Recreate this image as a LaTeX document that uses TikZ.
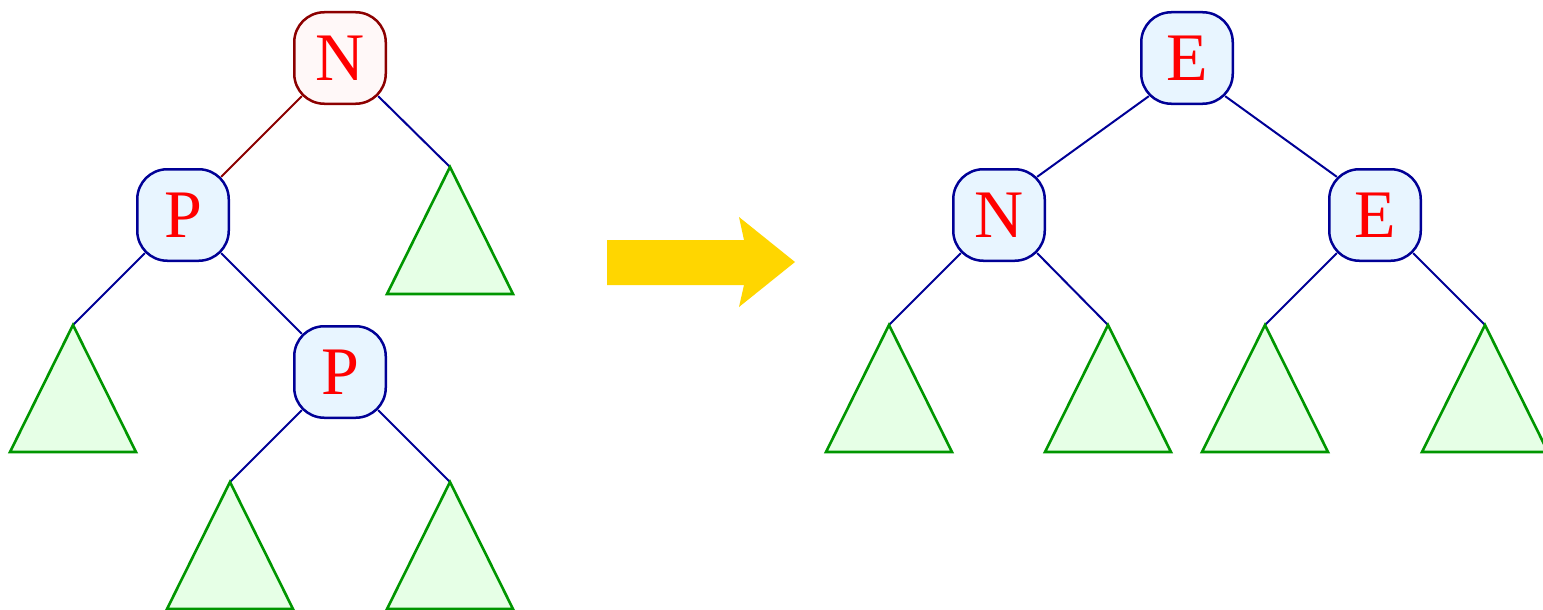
\documentclass[tikz,border=0pt]{standalone}
\usepackage{fontspec}
\setmainfont{Liberation Serif}
\usetikzlibrary{backgrounds,calc}
\definecolor{nodeblue}{RGB}{0,0,150}
\definecolor{nodefill}{RGB}{232,245,255}
\definecolor{rootred}{RGB}{140,0,0}
\definecolor{rootfill}{RGB}{255,248,248}
\definecolor{trigreen}{RGB}{0,150,0}
\definecolor{trifill}{RGB}{230,255,230}
\definecolor{arrowgold}{RGB}{255,214,0}
\tikzset{
  tnode/.style={draw=nodeblue, fill=nodefill, line width=2.5pt, rectangle,
    rounded corners=30pt, minimum size=91.5pt, inner sep=0pt, outer sep=0pt,
    text=red, font=\fontsize{68}{68}\selectfont},
  rnode/.style={tnode, draw=rootred, fill=rootfill},
  tri/.style={draw=trigreen, fill=trifill, line width=2.6pt, line join=miter},
  edge/.style={draw=nodeblue, line width=2pt},
  redge/.style={draw=rootred, line width=2pt},
  bigarrow/.style={fill=arrowgold, draw=none}
}
\newcommand{\subtree}[3]{%
  \coordinate (#1) at (#2,#3);
  \draw[tri] (#1) -- ++(63,127) -- ++(-126,0) -- cycle;
}
\newcommand{\cornerpts}[1]{%
  \coordinate (#1-sw) at ($(#1.center)+(-38.2,38.2)$);
  \coordinate (#1-se) at ($(#1.center)+(38.2,38.2)$);
  \coordinate (#1-nw) at ($(#1.center)+(-38.2,-38.2)$);
  \coordinate (#1-ne) at ($(#1.center)+(38.2,-38.2)$);
}
\begin{document}
\begin{tikzpicture}[x=1pt,y=-1pt]
\useasboundingbox (0,0) rectangle (1543,610);
% left tree
\node[rnode] (n) at (340,58) {N};
\node[tnode] (p1) at (183,215) {P};
\node[tnode] (p2) at (340,372) {P};
\subtree{la}{450}{167}
\subtree{lb}{73}{325}
\subtree{lc}{230}{482}
\subtree{ld}{450}{482}
% right tree
\node[tnode] (e1) at (1187,58) {E};
\node[tnode] (n2) at (999,215) {N};
\node[tnode] (e2) at (1375,215) {E};
\subtree{ra}{889}{325}
\subtree{rb}{1108}{325}
\subtree{rc}{1265}{325}
\subtree{rd}{1485}{325}
\cornerpts{n}\cornerpts{p1}\cornerpts{p2}
\cornerpts{e1}\cornerpts{n2}\cornerpts{e2}
\begin{scope}[on background layer]
  \draw[redge] (n-sw) -- (p1-ne);
  \draw[edge] (n-se) -- (la);
  \draw[edge] (p1-sw) -- (lb);
  \draw[edge] (p1-se) -- (p2-nw);
  \draw[edge] (p2-sw) -- (lc);
  \draw[edge] (p2-se) -- (ld);
  \draw[edge] (e1-sw) -- (n2-ne);
  \draw[edge] (e1-se) -- (e2-nw);
  \draw[edge] (n2-sw) -- (ra);
  \draw[edge] (n2-se) -- (rb);
  \draw[edge] (e2-sw) -- (rc);
  \draw[edge] (e2-se) -- (rd);
\end{scope}
% arrow
\coordinate (atip) at (795,262);
\fill[bigarrow] (607,240) -- (744,240) -- (739,217) -- (atip) -- (739,307) -- (744,285) -- (607,285) -- cycle;
\end{tikzpicture}
\end{document}
